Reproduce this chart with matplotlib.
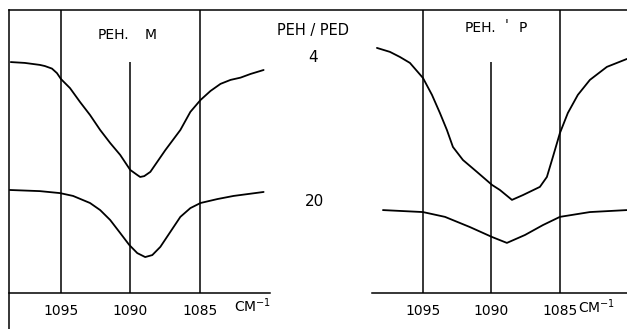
import matplotlib
matplotlib.use("Agg")
import matplotlib.pyplot as plt
from matplotlib.lines import Line2D

# Infrared band of PEH near 1090 cm-1 (transmission, arbitrary units)
tick_values = [1095, 1090, 1085]
tick_labels = ["1095", "1090", "1085"]

# Panel M, PEH/PED = 4
m_wn_4 = [1098.61, 1097.60, 1096.52, 1096.16, 1095.65, 1095.29, 1095.00, 1094.35, 1093.63,
          1092.91, 1092.18, 1091.46, 1090.74, 1090.02, 1089.51, 1089.30, 1089.01, 1088.57,
          1087.49, 1086.41, 1085.69, 1084.96, 1084.24, 1083.52, 1082.80, 1082.08, 1081.36,
          1080.42]
m_tr_4 = [81.6, 81.3, 80.6, 80.2, 79.3, 77.7, 75.6, 72.4, 67.5,
          62.9, 57.6, 53.0, 48.8, 43.5, 41.7, 41.0, 41.3, 42.8,
          50.5, 57.6, 64.0, 68.2, 71.4, 73.9, 75.3, 76.1, 77.4,
          78.8]
# Panel M, PEH/PED = 20
m_wn_20 = [1098.68, 1096.52, 1095.07, 1094.13, 1092.91, 1092.18, 1091.46, 1090.74, 1090.09,
           1089.51, 1088.94, 1088.43, 1087.85, 1087.13, 1086.41, 1085.69, 1084.96, 1083.74,
           1082.58, 1080.42]
m_tr_20 = [36.4, 36.0, 35.3, 34.3, 31.8, 29.3, 25.8, 21.2, 17.0,
           14.1, 12.7, 13.4, 16.3, 21.6, 26.9, 30.0, 31.8, 33.2,
           34.3, 35.7]

# Panel P, PEH/PED = 4
p_wn_4 = [1098.36, 1097.41, 1096.68, 1095.95, 1095.00, 1094.34, 1093.76, 1093.25, 1092.81,
          1092.08, 1091.06, 1089.96, 1089.38, 1088.50, 1087.70, 1086.46, 1085.95, 1085.51,
          1085.00, 1084.42, 1083.69, 1082.81, 1081.57, 1080.11]
p_tr_4 = [86.6, 85.2, 83.4, 81.3, 76.0, 70.0, 63.6, 57.6, 51.6,
          47.0, 42.8, 38.2, 36.4, 32.9, 34.6, 37.5, 41.0, 48.1,
          56.5, 63.6, 70.0, 75.3, 79.9, 82.7]
# Panel P, PEH/PED = 20
p_wn_20 = [1097.92, 1095.00, 1093.39, 1091.57, 1089.96, 1088.87, 1087.55, 1086.24, 1085.00,
           1082.81, 1080.11]
p_tr_20 = [29.3, 28.6, 26.9, 23.3, 19.8, 17.7, 20.5, 24.0, 26.9,
           28.6, 29.3]

W, H = 627, 329
fig = plt.figure(figsize=(W / 100, H / 100), dpi=100)
fig.patch.set_facecolor("white")


def rect(x0, y_top, x1, y_bottom):
    return [x0 / W, 1 - y_bottom / H, (x1 - x0) / W, (y_bottom - y_top) / H]


def px(x, y):
    return x / W, 1 - y / H


LW = 1.1
INK = "black"


def setup(ax, xlim, curves):
    ax.set_xlim(*xlim)
    ax.set_ylim(0, 100)
    for s in ["left", "right", "top"]:
        ax.spines[s].set_visible(False)
    ax.spines["bottom"].set_linewidth(LW)
    ax.set_yticks([])
    ax.set_xticks(tick_values, tick_labels)
    ax.tick_params(axis="x", length=0, pad=8, labelsize=10)
    ax.vlines([1095, 1085], 0, 100, color=INK, lw=LW)
    ax.vlines([1090], 0, 81.6, color=INK, lw=LW)
    for wn, tr in curves:
        ax.plot(wn, tr, color=INK, lw=1.3, solid_joinstyle="round",
                solid_capstyle="round")
    ax.patch.set_alpha(0)


axL = fig.add_axes(rect(9, 10, 270, 293))
setup(axL, (1098.74, 1079.96), [(m_wn_4, m_tr_4), (m_wn_20, m_tr_20)])
axL.plot([0, 0], [-36 / 283, 1], transform=axL.transAxes, color=INK, lw=LW, clip_on=False)

axR = fig.add_axes(rect(372, 10, 627, 293))
setup(axR, (1098.72, 1080.1), [(p_wn_4, p_tr_4), (p_wn_20, p_tr_20)])

# top border running across both panels
fig.add_artist(Line2D([9 / W, 1.0], [1 - 10 / H] * 2, color=INK, lw=LW))

kw = dict(ha="center", va="center", fontsize=10, color=INK)
fig.text(*px(113, 35), "PEH.", **kw)
fig.text(*px(151, 35), "M", **kw)
fig.text(*px(480, 28), "PEH.", **kw)
fig.text(*px(507, 25), "'", **kw)
fig.text(*px(523, 28), "P", **kw)
fig.text(*px(313, 31), "PEH / PED", ha="center", va="center", fontsize=10.5, color=INK)
fig.text(*px(313, 58), "4", ha="center", va="center", fontsize=11, color=INK)
fig.text(*px(314, 202), "20", ha="center", va="center", fontsize=11, color=INK)
fig.text(*px(253, 306), "CM$^{-1}$", **kw)
fig.text(*px(597, 307), "CM$^{-1}$", **kw)

fig.savefig("out.png", dpi=100, facecolor="white")
